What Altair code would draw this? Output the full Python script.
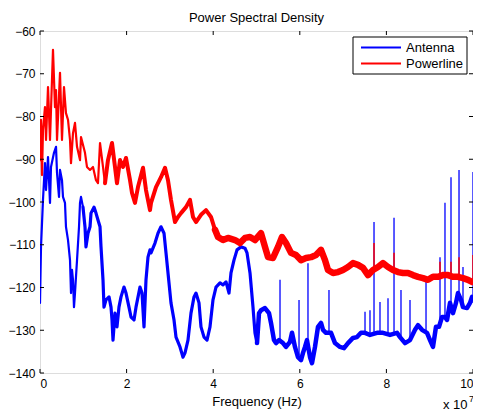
import altair as alt
import pandas as pd

# ---------------- data (frequency in units of 1e7 Hz, PSD in dB) ----------------
series_names = ["Antenna", "Powerline"]
series_colors = ["#0000ff", "#ff0000"]

ant_f = [0.000, 0.023, 0.069, 0.115, 0.139, 0.185, 0.231, 0.254, 0.323, 0.370, 0.393, 0.439, 0.462,
         0.508, 0.531, 0.577, 0.600, 0.647, 0.693, 0.716, 0.739, 0.762, 0.785, 0.808, 0.855, 0.901,
         0.924, 0.947, 0.993, 1.039, 1.062, 1.109, 1.155, 1.178, 1.247, 1.293, 1.339, 1.386, 1.409,
         1.455, 1.478, 1.524, 1.594, 1.640, 1.663, 1.686, 1.732, 1.778, 1.824, 1.871, 1.940, 1.986,
         2.055, 2.102, 2.171, 2.217, 2.309, 2.356, 2.402, 2.448, 2.494, 2.540, 2.564, 2.656, 2.725,
         2.794, 2.864, 2.910, 2.979, 3.025, 3.095, 3.141, 3.233, 3.303, 3.349, 3.418, 3.487, 3.557,
         3.603, 3.672, 3.718, 3.788, 3.857, 3.926, 3.995, 4.065, 4.157, 4.226, 4.296, 4.365, 4.411,
         4.480, 4.550, 4.642, 4.734, 4.781, 4.850, 4.919, 4.965, 5.012, 5.058, 5.104, 5.196, 5.289,
         5.335, 5.404, 5.450, 5.520, 5.612, 5.681, 5.774, 5.820, 5.889, 5.958, 6.028, 6.074, 6.120,
         6.166, 6.236, 6.282, 6.351, 6.420, 6.490, 6.536, 6.605, 6.721, 6.813, 6.928, 7.021, 7.113,
         7.229, 7.321, 7.413, 7.506, 7.621, 7.783, 7.921, 8.083, 8.245, 8.314, 8.430, 8.545, 8.661,
         8.730, 8.822, 8.938, 9.007, 9.076, 9.145, 9.215, 9.284, 9.353, 9.400, 9.469, 9.538, 9.607,
         9.654, 9.723, 9.769, 9.861, 9.931, 9.977]
ant_db = [-123.6, -110.5, -99.5, -90.9, -97.2, -89.5, -100.2, -91.8, -88.5, -87.1, -93.2, -98.8, -92.5,
          -94.9, -98.8, -100.2, -105.8, -108.9, -113.6, -121.3, -115.9, -118.2, -124.6, -121.3, -113.6, -105.8,
          -100.2, -98.8, -101.2, -105.8, -110.5, -107.3, -105.8, -102.6, -101.2, -102.6, -104.2, -105.8, -110.5,
          -118.2, -124.6, -122.9, -122.2, -124.6, -127.6, -132.3, -126.0, -129.2, -124.6, -122.2, -119.9, -121.3,
          -124.6, -126.9, -127.6, -124.6, -119.9, -121.3, -129.2, -118.2, -112.9, -111.2, -111.9, -109.6, -107.3,
          -105.8, -107.3, -111.9, -118.9, -123.6, -127.6, -131.6, -133.9, -136.3, -135.3, -132.3, -126.0, -122.2,
          -121.3, -123.6, -129.2, -131.6, -132.3, -129.2, -122.9, -119.9, -118.9, -119.4, -118.7, -121.3, -116.6,
          -113.6, -111.2, -110.5, -110.8, -111.9, -116.6, -124.6, -130.6, -133.0, -126.0, -125.3, -124.8, -126.0,
          -128.3, -132.3, -133.0, -132.3, -133.0, -133.9, -132.7, -130.6, -133.9, -136.3, -137.0, -135.3, -133.9,
          -132.3, -136.3, -137.7, -133.9, -129.2, -128.3, -129.9, -130.6, -130.6, -133.0, -133.9, -134.2, -133.0,
          -131.8, -131.6, -130.6, -130.6, -131.1, -130.6, -130.6, -131.1, -130.6, -131.6, -133.0, -132.3, -129.9,
          -128.8, -129.9, -130.6, -132.3, -133.9, -129.2, -129.2, -126.9, -126.9, -127.6, -123.6, -126.0, -123.6,
          -121.3, -122.9, -124.6, -124.8, -123.6, -122.2]

ant_spike_f = [5.543, 5.982, 6.189, 6.674, 7.506, 7.621, 7.714, 7.852, 8.037, 8.176, 8.337, 8.545,
               8.915, 9.238, 9.353, 9.492, 9.677, 9.769, 10.0]
ant_spike_top = [-118.2, -122.9, -114.3, -120.6, -125.7, -125.3, -104.7, -123.4, -122.5, -103.7, -120.6,
                 -122.9, -118.2, -112.9, -100.2, -94.2, -92.5, -115.2, -93.0]
ant_spike_base = [-132.3, -135.8, -133.5, -131.1, -130.6, -131.1, -131.1, -131.1, -131.1, -131.1, -131.6,
                  -132.3, -130.6, -127.6, -126.9, -124.1, -121.8, -124.6, -123.6]

pow_f = [0.000, 0.023, 0.046, 0.069, 0.115, 0.139, 0.185, 0.231, 0.300, 0.346, 0.370, 0.393, 0.462,
         0.508, 0.554, 0.600, 0.647, 0.693, 0.716, 0.762, 0.808, 0.855, 0.924, 0.947, 1.039, 1.085,
         1.155, 1.224, 1.293, 1.339, 1.386, 1.455, 1.501, 1.570, 1.663, 1.732, 1.778, 1.848, 1.917,
         1.986, 2.079, 2.125, 2.194, 2.263, 2.379, 2.448, 2.540, 2.564, 2.679, 2.794, 2.887, 2.956,
         3.025, 3.118, 3.187, 3.256, 3.372, 3.464, 3.533, 3.603, 3.718, 3.834, 3.949, 4.042, 4.111,
         4.226, 4.342, 4.503, 4.619, 4.734, 4.850, 4.965, 5.104, 5.196, 5.266, 5.381, 5.497, 5.589,
         5.681, 5.797, 5.912, 6.028, 6.143, 6.259, 6.374, 6.490, 6.582, 6.651, 6.767, 6.882, 6.998,
         7.113, 7.229, 7.344, 7.460, 7.575, 7.691, 7.806, 7.921, 8.037, 8.152, 8.268, 8.383, 8.499,
         8.614, 8.730, 8.845, 8.961, 9.076, 9.192, 9.307, 9.423, 9.538, 9.654, 9.769, 9.885, 9.977]
pow_db = [-90.2, -80.8, -93.7, -83.2, -77.8, -85.5, -73.1, -85.5, -64.4, -77.8, -73.8, -85.5, -69.8,
          -85.5, -73.1, -79.2, -80.8, -85.5, -90.9, -83.9, -81.5, -87.1, -90.2, -84.8, -88.5, -91.8,
          -92.5, -91.8, -94.9, -95.6, -86.2, -91.8, -95.6, -90.2, -86.2, -91.8, -95.6, -90.2, -91.8,
          -89.7, -94.9, -97.9, -100.2, -96.5, -92.0, -97.2, -101.9, -100.2, -96.5, -94.2, -92.0, -94.9,
          -99.5, -104.7, -103.5, -102.6, -101.2, -99.5, -103.5, -104.7, -103.0, -101.9, -103.5, -106.5, -108.2,
          -108.9, -108.4, -108.9, -109.6, -108.4, -108.2, -108.9, -107.3, -110.5, -112.9, -113.1, -110.5, -108.2,
          -109.6, -111.9, -112.4, -113.6, -113.1, -112.9, -112.4, -111.2, -113.6, -115.9, -116.6, -116.4, -115.9,
          -115.2, -114.3, -114.7, -115.4, -117.1, -115.9, -115.2, -114.3, -115.2, -115.9, -116.4, -116.6, -116.6,
          -117.1, -117.5, -117.8, -118.2, -117.5, -117.5, -117.1, -117.1, -117.5, -117.5, -117.8, -118.2, -118.7]

pow_spike_f = [7.714, 8.176, 9.238, 9.492, 9.677, 10.0]
pow_spike_top = [-109.6, -111.9, -114.0, -114.0, -112.9, -112.4]
pow_spike_base = [-115.9, -115.9, -117.1, -117.5, -117.5, -118.7]

x_ticks = [0, 2, 4, 6, 8, 10]
y_ticks = [-140, -130, -120, -110, -100, -90, -80, -70, -60]

title_text = "Power Spectral Density"
x_title = "Frequency (Hz)"
exp_base = "x 10"
exp_power = "7"

# ---------------- chart ----------------
W, H = 433, 342
FONT = "Liberation Sans"
xs = alt.Scale(domain=[0, 10], nice=False, zero=False)
ys = alt.Scale(domain=[-140, -60], nice=False, zero=False)

ant = pd.DataFrame({"f": ant_f, "db": ant_db})
pw = pd.DataFrame({"f": pow_f, "db": pow_db})
ant_sp = pd.DataFrame({"f": ant_spike_f, "top": ant_spike_top, "base": ant_spike_base})
pw_sp = pd.DataFrame({"f": pow_spike_f, "top": pow_spike_top, "base": pow_spike_base})

x_axis = alt.Axis(values=x_ticks, format="d", ticks=False, tickSize=0, domain=False, grid=False,
                  labelFontSize=12, labelFont=FONT, labelColor="black", labelPadding=5,
                  title=x_title, titleFont=FONT, titleFontSize=13, titleFontWeight="normal",
                  titleColor="black", titlePadding=6)
y_axis = alt.Axis(values=y_ticks, format="d", ticks=False, tickSize=0, domain=False, grid=False,
                  labelFontSize=12, labelFont=FONT, labelColor="black", labelPadding=5, title=None)


def segment(df, lo, hi, color, width, axes=False):
    enc_x = alt.X("f:Q", scale=xs, axis=x_axis) if axes else alt.X("f:Q", scale=xs)
    enc_y = alt.Y("db:Q", scale=ys, axis=y_axis) if axes else alt.Y("db:Q", scale=ys)
    return alt.Chart(df).transform_filter(
        (alt.datum.f >= lo - 1e-6) & (alt.datum.f <= hi + 1e-6)
    ).mark_line(stroke=color, strokeWidth=width, strokeJoin="round", strokeCap="round",
                clip=True).encode(x=enc_x, y=enc_y)


# segment boundaries are existing sample frequencies so the pieces join up
ant_layers = [
    segment(ant, 0, 0.993, series_colors[0], 2.2, axes=True),
    segment(ant, 0.993, 5.012, series_colors[0], 3.2),
    segment(ant, 5.012, 10, series_colors[0], 4.5),
]
ant_spikes = alt.Chart(ant_sp).mark_rule(stroke=series_colors[0], strokeWidth=1.3, clip=True).encode(
    x=alt.X("f:Q", scale=xs), y=alt.Y("top:Q", scale=ys), y2="base:Q")
pow_layers = [
    segment(pw, 0, 1.501, series_colors[1], 2.2),
    segment(pw, 1.501, 4.042, series_colors[1], 4.0),
    segment(pw, 4.042, 10, series_colors[1], 6.5),
]
pow_spikes = alt.Chart(pw_sp).mark_rule(stroke=series_colors[1], strokeWidth=1.5, clip=True).encode(
    x=alt.X("f:Q", scale=xs), y=alt.Y("top:Q", scale=ys), y2="base:Q")

# inward tick marks on all four sides
TL = 4
xt = pd.DataFrame({"v": x_ticks})
yt = pd.DataFrame({"v": y_ticks})
ticks = [
    alt.Chart(xt).mark_rule(stroke="black", strokeWidth=1).encode(
        x=alt.X("v:Q", scale=xs), y=alt.value(H), y2=alt.value(H - TL)),
    alt.Chart(xt).mark_rule(stroke="black", strokeWidth=1).encode(
        x=alt.X("v:Q", scale=xs), y=alt.value(0), y2=alt.value(TL)),
    alt.Chart(yt).mark_rule(stroke="black", strokeWidth=1).encode(
        y=alt.Y("v:Q", scale=ys), x=alt.value(0), x2=alt.value(TL)),
    alt.Chart(yt).mark_rule(stroke="black", strokeWidth=1).encode(
        y=alt.Y("v:Q", scale=ys), x=alt.value(W), x2=alt.value(W - TL)),
]

# legend box (drawn manually, MATLAB style)
leg = pd.DataFrame({"name": series_names})
color_scale = alt.Scale(domain=series_names, range=series_colors)
LX0, LX1, LY0, LY1 = 313, 427, 6, 43
legend = [
    alt.Chart(leg).transform_filter(alt.datum.name == series_names[0]).mark_rect(
        fill="white", stroke="black", strokeWidth=1).encode(
        x=alt.value(LX0), x2=alt.value(LX1), y=alt.value(LY0), y2=alt.value(LY1))
]
for i, name in enumerate(series_names):
    yy = 16 + 16 * i
    legend.append(alt.Chart(leg).transform_filter(alt.datum.name == name).mark_rect(strokeWidth=0).encode(
        x=alt.value(321), x2=alt.value(361), y=alt.value(yy - 0.5), y2=alt.value(yy + 1.5),
        color=alt.Color("name:N", scale=color_scale, legend=None)))
    legend.append(alt.Chart(leg).transform_filter(alt.datum.name == name).mark_text(
        align="left", baseline="middle", font=FONT, fontSize=13, color="black").encode(
        x=alt.value(366), y=alt.value(yy + 0.5), text="name:N"))

# exponent annotation
one = pd.DataFrame({"k": [0]})
expo = [
    alt.Chart(one).mark_text(text=exp_base, align="left", baseline="alphabetic", font=FONT,
                             fontSize=13, color="black").encode(x=alt.value(403), y=alt.value(378)),
    alt.Chart(one).mark_text(text=exp_power, align="left", baseline="alphabetic", font=FONT,
                             fontSize=9, color="black").encode(x=alt.value(429), y=alt.value(371)),
]

chart = alt.layer(*ant_layers, ant_spikes, *pow_layers, pow_spikes, *ticks, *legend, *expo).properties(
    width=W, height=H,
    title=alt.TitleParams(title_text, font=FONT, fontSize=13, fontWeight="normal", color="black",
                          anchor="middle", offset=0),
    autosize=alt.AutoSizeParams(type="none"),
    padding={"left": 32, "top": 23, "right": 0, "bottom": 39},
).configure_view(stroke="black", strokeWidth=1).configure(background="white")

chart.save("out.html", embed_options={"renderer": "svg", "actions": False})
